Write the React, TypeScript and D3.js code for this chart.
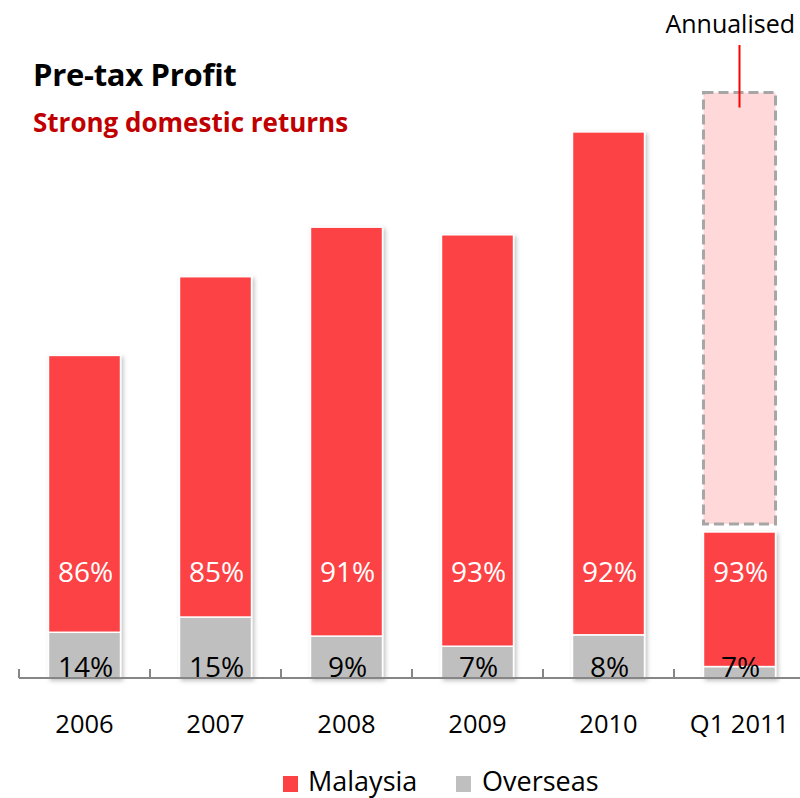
import React from 'react';
import { scaleBand, scaleLinear } from 'd3';

// values in RM bn
const categories = ['2006', '2007', '2008', '2009', '2010', 'Q1 2011'];
const malaysia = [2.18, 2.68, 3.22, 3.24, 3.96, 1.06];
const overseas = [0.36, 0.48, 0.33, 0.25, 0.34, 0.09];
const malaysiaPct = ['86%', '85%', '91%', '93%', '92%', '93%'];
const overseasPct = ['14%', '15%', '9%', '7%', '8%', '7%'];
const annualised = 4.61;

const width = 800;
const height = 798;
const baseY = 678;
const font = '"Open Sans", Lato, sans-serif';

const red = '#FC4244';
const grey = '#BFBFBF';

const App = () => {
  const xScale = scaleBand().domain(categories).range([19, 805]);
  const yScale = scaleLinear().domain([0, 5]).range([baseY, baseY - 635]);
  const barW = xScale.bandwidth() * 0.55;

  const last = categories[categories.length - 1];
  const lastTotal = malaysia[5] + overseas[5];
  const lastX = xScale(last) + (xScale.bandwidth() - barW) / 2;

  return (
    <svg
      width={width}
      height={height}
      style={{ position: 'absolute', left: 0, top: 0 }}
      fontFamily={font}>
      <defs>
        <filter id='shadow' x='-20%' y='-5%' width='140%' height='115%'>
          <feDropShadow dx='2' dy='2' stdDeviation='2' floodColor='#000' floodOpacity='0.25' />
        </filter>
      </defs>

      <text x={33} y={86} fontSize={31} fontWeight='bold' fill='#000' letterSpacing={-0.3}>
        Pre-tax Profit
      </text>
      <text x={33} y={132} fontSize={26} fontWeight='bold' fill='#C00000'>
        Strong domestic returns
      </text>

      {categories.map((c, i) => {
        const x = xScale(c) + (xScale.bandwidth() - barW) / 2;
        const yOver = yScale(overseas[i]);
        const yTop = yScale(overseas[i] + malaysia[i]);
        return (
          <g key={c} filter='url(#shadow)'>
            <rect
              x={x}
              y={yOver}
              width={barW}
              height={baseY - yOver}
              fill={grey}
              stroke='#fff'
              strokeWidth={1.5}
            />
            <rect
              x={x}
              y={yTop}
              width={barW}
              height={yOver - yTop}
              fill={red}
              stroke='#fff'
              strokeWidth={1.5}
            />
          </g>
        );
      })}

      {/* annualised projection */}
      <rect
        x={lastX}
        y={yScale(annualised)}
        width={barW}
        height={yScale(lastTotal) - 8 - yScale(annualised)}
        fill='#FFD9D9'
        stroke='#A6A6A6'
        strokeWidth={3}
        strokeDasharray='10 5'
      />
      <line
        x1={lastX + barW / 2}
        x2={lastX + barW / 2}
        y1={45}
        y2={yScale(annualised) + 15}
        stroke='#FF0000'
        strokeWidth={2}
      />
      <text x={795} y={33} fontSize={25} textAnchor='end' fill='#000'>
        Annualised
      </text>

      {/* axis */}
      <line x1={19} x2={800} y1={baseY} y2={baseY} stroke='#868686' strokeWidth={2} />
      {categories.map(c => (
        <line
          key={c}
          x1={xScale(c)}
          x2={xScale(c)}
          y1={baseY}
          y2={baseY - 9}
          stroke='#868686'
          strokeWidth={2}
        />
      ))}

      {categories.map((c, i) => {
        const cx = xScale(c) + xScale.bandwidth() / 2;
        return (
          <g key={c} fontSize={28}>
            <text x={cx + 1} y={baseY - 106} dy='.35em' textAnchor='middle' fill='#fff'>
              {malaysiaPct[i]}
            </text>
            <text x={cx + 1} y={baseY - 11} dy='.35em' textAnchor='middle' fill='#000'>
              {overseasPct[i]}
            </text>
            <text x={cx} y={724} dy='.35em' textAnchor='middle' fontSize={25.5} fill='#000'>
              {c}
            </text>
          </g>
        );
      })}

      {/* legend */}
      <rect x={283} y={776} width={15} height={16} fill={red} />
      <text x={308} y={791} fontSize={27} fill='#000'>Malaysia</text>
      <rect x={456} y={776} width={15} height={16} fill={grey} />
      <text x={482} y={791} fontSize={27} fill='#000'>Overseas</text>
    </svg>
  );
};

export default App;
